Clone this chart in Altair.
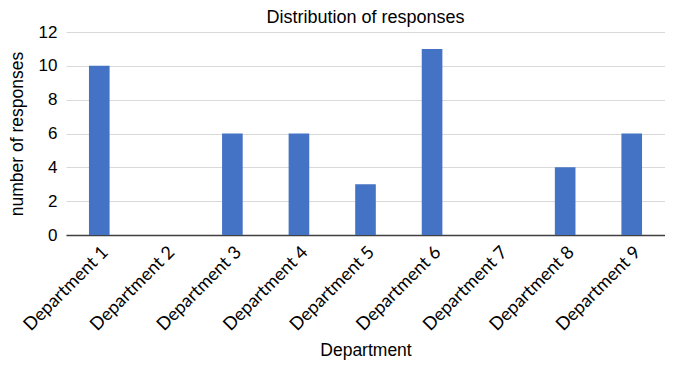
import altair as alt
import pandas as pd

departments = [f"Department {i}" for i in range(1, 10)]
responses = [10, 0, 6, 6, 3, 11, 0, 4, 6]

df = pd.DataFrame({"Department": departments, "responses": responses})

chart = alt.Chart(df).mark_bar(color="#4472C4").encode(
    x=alt.X(
        "Department:N",
        sort=departments,
        scale=alt.Scale(paddingInner=0.69, paddingOuter=0.345),
        axis=alt.Axis(
            title="Department",
            labelAngle=-45,
            labelFont="Lato",
            labelFontSize=18,
            labelColor="#000000",
            labelPadding=8,
            ticks=False,
            domainColor="#404040",
            domainWidth=1.5,
            titleFont="Liberation Sans",
            titleFontSize=17.5,
            titleFontWeight="normal",
            titleColor="#000000",
            titlePadding=7,
        ),
    ),
    y=alt.Y(
        "responses:Q",
        scale=alt.Scale(domain=[0, 12]),
        axis=alt.Axis(
            title="number of responses",
            values=[0, 2, 4, 6, 8, 10, 12],
            domain=False,
            ticks=False,
            gridColor="#d9d9d9",
            gridWidth=1.2,
            labelFont="Liberation Sans",
            labelFontSize=17,
            labelColor="#000000",
            labelPadding=9,
            titleFont="Liberation Sans",
            titleFontSize=17.5,
            titleFontWeight="normal",
            titleColor="#000000",
            titlePadding=12,
        ),
    ),
).properties(
    width=599,
    height=203,
    autosize=alt.AutoSizeParams(type="none"),
    padding={"left": 58, "top": 24, "right": 0, "bottom": 125},
    title=alt.Title(
        "Distribution of responses",
        font="Liberation Sans",
        fontSize=18,
        fontWeight="normal",
        color="#000000",
        offset=-4,
    ),
).configure_view(stroke=None)

chart.save("out.html", embed_options={"renderer": "svg", "actions": False})
